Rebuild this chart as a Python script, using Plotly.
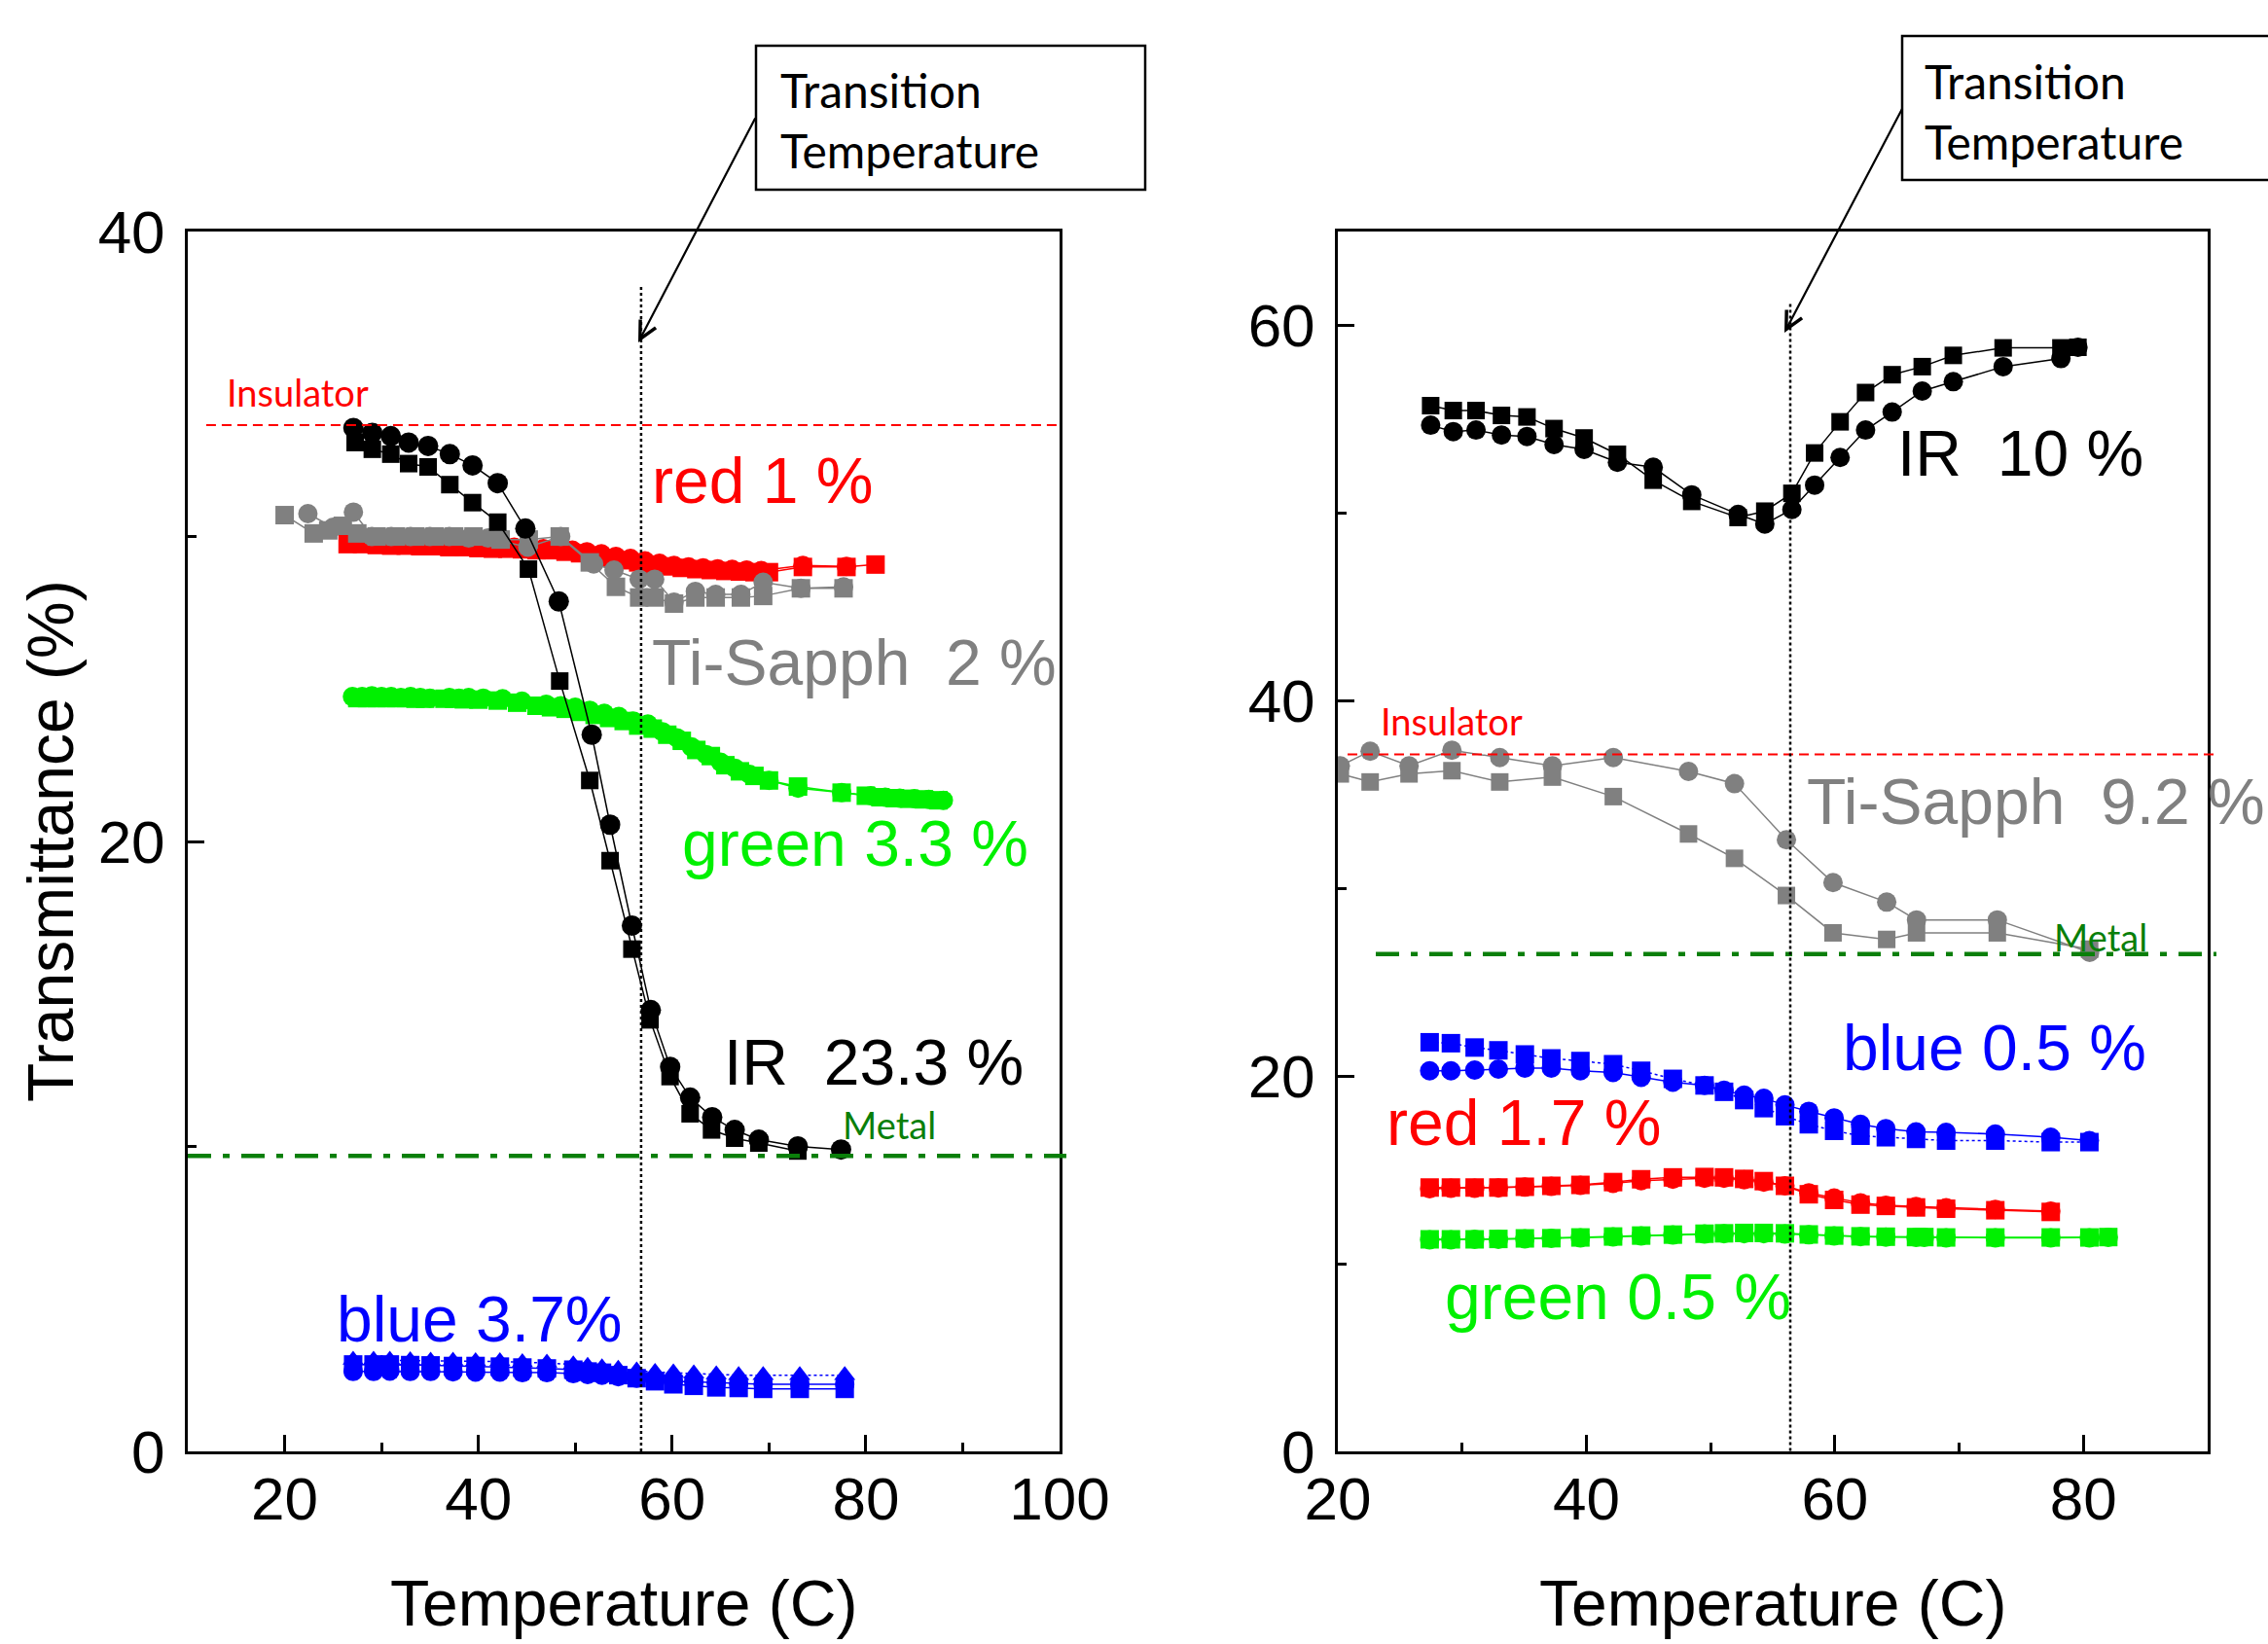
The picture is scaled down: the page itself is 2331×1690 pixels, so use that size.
import plotly.graph_objects as go

W, H = 2331, 1690

# ---------------- Left panel data ----------------
L_IR_ci_T = [27.1, 29.05, 30.96, 32.8, 34.81, 37.05, 39.4, 42.0, 44.85, 48.3, 51.7, 53.6, 55.85, 57.8, 59.8, 61.86, 64.14, 66.46, 68.95, 72.98, 77.44]
L_IR_ci_Y = [33.56, 33.4, 33.29, 33.08, 32.97, 32.7, 32.33, 31.75, 30.26, 27.87, 23.5, 20.55, 17.24, 14.47, 12.61, 11.6, 10.96, 10.54, 10.22, 10.0, 9.9]
L_IR_sq_T = [27.28, 29.05, 30.96, 32.8, 34.81, 37.05, 39.4, 42.0, 45.17, 48.4, 51.5, 53.6, 55.85, 57.72, 59.79, 61.86, 64.07, 66.46, 68.95, 72.98]
L_IR_sq_Y = [33.08, 32.86, 32.7, 32.39, 32.28, 31.7, 31.11, 30.47, 28.93, 25.26, 22.0, 19.37, 16.47, 14.15, 12.29, 11.07, 10.54, 10.27, 10.11, 9.85]

L_red_sq_T = [26.5, 28.0, 29.5, 31.0, 32.5, 34.0, 35.5, 37.0, 38.5, 40.0, 41.5, 43.0, 44.5, 46.0, 47.5, 49.0, 50.5, 52.0, 53.5, 55.0, 56.5, 58.0, 59.5, 61.0, 62.5, 64.0, 65.5, 67.0, 68.5, 70.0, 73.5, 78.0, 81.0]
L_red_sq_Y = [29.75, 29.75, 29.72, 29.7, 29.7, 29.68, 29.68, 29.65, 29.65, 29.62, 29.6, 29.6, 29.58, 29.55, 29.55, 29.5, 29.45, 29.38, 29.3, 29.22, 29.15, 29.08, 29.02, 28.97, 28.93, 28.9, 28.87, 28.85, 28.83, 28.83, 29.0, 29.0, 29.08]
L_red_ci_T = [27.2, 28.7, 30.2, 31.7, 33.2, 34.7, 36.2, 37.7, 39.2, 40.7, 42.2, 43.7, 45.2, 46.7, 48.2, 49.7, 51.2, 52.7, 54.2, 55.7, 57.2, 58.7, 60.2, 61.7, 63.2, 64.7, 66.2, 67.7, 69.2, 73.5, 78.0]
L_red_ci_Y = [29.85, 29.82, 29.8, 29.78, 29.76, 29.75, 29.72, 29.72, 29.7, 29.68, 29.66, 29.65, 29.62, 29.6, 29.58, 29.55, 29.5, 29.43, 29.35, 29.28, 29.2, 29.12, 29.05, 29.0, 28.97, 28.94, 28.92, 28.9, 28.88, 29.05, 29.02]

L_gray_sq_T = [20.0, 23.0, 24.5, 26.0, 27.5, 29.5, 31.5, 33.5, 35.5, 37.5, 39.5, 42.3, 45.2, 48.4, 51.5, 54.2, 56.6, 58.2, 60.2, 62.4, 64.5, 67.1, 69.4, 73.3, 77.7]
L_gray_sq_Y = [30.7, 30.1, 30.2, 30.35, 30.1, 30.0, 30.0, 30.0, 30.0, 30.0, 30.0, 29.9, 29.9, 30.0, 29.15, 28.35, 28.0, 28.0, 27.8, 28.0, 28.0, 28.0, 28.05, 28.3, 28.3]
L_gray_ci_T = [22.4, 25.0, 27.1, 29.0, 31.0, 33.0, 35.0, 37.0, 39.0, 41.0, 45.1, 48.5, 51.9, 54.0, 56.6, 58.2, 60.2, 62.4, 64.5, 67.1, 69.4, 73.3, 77.7]
L_gray_ci_Y = [30.75, 30.3, 30.8, 30.0, 30.0, 30.0, 30.0, 30.0, 29.95, 29.95, 29.65, 30.0, 29.1, 28.9, 28.6, 28.6, 27.85, 28.2, 28.1, 28.1, 28.5, 28.3, 28.35]

L_green_ci_T = [27.0, 28.0, 29.0, 30.0, 31.0, 32.0, 33.0, 34.0, 35.0, 37.0, 38.0, 39.0, 40.5, 42.5, 44.5, 47.0, 48.5, 50.0, 51.5, 53.0, 54.5, 56.0, 57.5, 59.0, 60.5, 62.0, 63.5, 65.0, 66.5, 68.0, 70.0, 73.0, 77.5, 80.5, 82.0, 83.5, 85.0, 86.5, 88.0]
L_green_ci_Y = [24.75, 24.75, 24.78, 24.75, 24.75, 24.72, 24.75, 24.72, 24.7, 24.72, 24.7, 24.72, 24.7, 24.68, 24.6, 24.5, 24.45, 24.4, 24.3, 24.2, 24.1, 23.95, 23.85, 23.6, 23.4, 23.1, 22.85, 22.6, 22.4, 22.2, 22.0, 21.75, 21.6, 21.5, 21.45, 21.42, 21.4, 21.38, 21.35]
L_green_sq_T = [27.5, 28.5, 29.5, 30.5, 31.5, 32.5, 33.5, 34.5, 36.5, 37.5, 38.5, 40.0, 42.0, 44.0, 46.0, 47.5, 49.0, 50.5, 52.0, 53.5, 55.0, 56.5, 58.0, 59.5, 61.0, 62.5, 64.0, 65.5, 67.0, 68.5, 70.0, 73.0, 77.5, 80.0, 81.5, 83.0, 84.5, 86.0, 87.5]
L_green_sq_Y = [24.7, 24.7, 24.7, 24.7, 24.7, 24.7, 24.68, 24.68, 24.68, 24.68, 24.66, 24.65, 24.62, 24.55, 24.45, 24.4, 24.35, 24.25, 24.15, 24.05, 23.95, 23.8, 23.7, 23.5, 23.3, 23.0, 22.8, 22.5, 22.3, 22.15, 22.0, 21.8, 21.6, 21.5, 21.45, 21.42, 21.4, 21.38, 21.35]

L_blue_T = [27.07, 29.18, 30.86, 32.96, 35.07, 37.38, 39.71, 42.22, 44.54, 47.07, 49.8, 51.28, 52.76, 54.44, 56.34, 58.24, 60.13, 62.24, 64.56, 66.87, 69.4, 73.18, 77.82]
L_blue_ci_Y = [2.62, 2.62, 2.63, 2.62, 2.62, 2.61, 2.6, 2.6, 2.58, 2.58, 2.55, 2.52, 2.5, 2.45, 2.4, 2.35, 2.3, 2.28, 2.25, 2.22, 2.2, 2.2, 2.2]
L_blue_sq_Y = [2.85, 2.85, 2.85, 2.83, 2.82, 2.8, 2.8, 2.78, 2.75, 2.72, 2.68, 2.62, 2.58, 2.5, 2.4, 2.3, 2.2, 2.15, 2.1, 2.08, 2.05, 2.05, 2.05]
L_blue_tr_Y = [3.0, 3.0, 3.0, 2.98, 2.97, 2.97, 2.95, 2.95, 2.92, 2.9, 2.85, 2.8, 2.75, 2.7, 2.65, 2.6, 2.58, 2.55, 2.52, 2.5, 2.5, 2.5, 2.5]

# ---------------- Right panel data ----------------
R_IR_T = [27.47, 29.29, 31.12, 33.17, 35.22, 37.4, 39.82, 42.5, 45.38, 48.48, 52.21, 54.36, 56.54, 58.37, 60.42, 62.47, 64.61, 67.03, 69.53, 73.54, 78.19, 79.56]
R_IR_sq_Y = [55.72, 55.46, 55.46, 55.2, 55.12, 54.5, 54.0, 53.13, 51.75, 50.62, 49.76, 50.1, 51.05, 53.2, 54.86, 56.42, 57.37, 57.8, 58.4, 58.8, 58.8, 58.83]
R_IR_ci_Y = [54.68, 54.34, 54.42, 54.16, 54.08, 53.65, 53.39, 52.7, 52.44, 50.97, 49.93, 49.41, 50.19, 51.49, 52.96, 54.42, 55.38, 56.5, 57.0, 57.8, 58.23, 58.83]

R_gray_T = [20.2, 22.6, 25.73, 29.18, 33.03, 37.27, 42.17, 48.22, 51.92, 56.1, 59.85, 64.17, 66.57, 73.07, 80.5]
R_gray_ci_Y = [36.53, 37.31, 36.53, 37.36, 36.97, 36.53, 36.97, 36.23, 35.58, 32.59, 30.31, 29.27, 28.32, 28.32, 26.59]
R_gray_sq_Y = [36.1, 35.67, 36.1, 36.27, 35.67, 35.93, 34.89, 32.9, 31.6, 29.62, 27.63, 27.28, 27.63, 27.63, 26.76]

R_blue_T = [27.39, 29.1, 31.01, 32.92, 35.05, 37.18, 39.52, 42.15, 44.41, 46.96, 49.51, 51.08, 52.7, 54.28, 55.98, 57.9, 59.94, 62.06, 64.1, 66.53, 68.95, 72.91, 77.37, 80.48]
R_blue_sq_Y = [21.8, 21.75, 21.52, 21.37, 21.15, 20.94, 20.8, 20.63, 20.28, 19.85, 19.5, 19.16, 18.72, 18.29, 17.86, 17.43, 17.08, 16.82, 16.74, 16.65, 16.56, 16.56, 16.48, 16.48]
R_blue_ci_Y = [20.28, 20.28, 20.32, 20.37, 20.42, 20.42, 20.28, 20.19, 19.93, 19.67, 19.5, 19.24, 18.98, 18.81, 18.46, 18.12, 17.77, 17.43, 17.2, 17.03, 17.0, 16.91, 16.74, 16.56]

R_red_T = [27.39, 29.1, 31.01, 32.92, 35.05, 37.18, 39.52, 42.15, 44.41, 46.96, 49.51, 51.08, 52.7, 54.28, 55.98, 57.9, 59.94, 62.06, 64.1, 66.53, 68.95, 72.91, 77.37]
R_red_sq_Y = [14.06, 14.06, 14.06, 14.06, 14.1, 14.15, 14.2, 14.35, 14.5, 14.6, 14.62, 14.6, 14.52, 14.4, 14.15, 13.7, 13.4, 13.15, 13.08, 13.0, 12.93, 12.85, 12.76]
R_red_ci_Y = [14.0, 14.02, 14.02, 14.04, 14.08, 14.12, 14.18, 14.28, 14.42, 14.5, 14.55, 14.55, 14.48, 14.35, 14.15, 13.78, 13.5, 13.25, 13.12, 13.05, 12.98, 12.9, 12.8]

R_green_T = [27.39, 29.1, 31.01, 32.92, 35.05, 37.18, 39.52, 42.15, 44.41, 46.96, 49.51, 51.08, 52.7, 54.28, 55.98, 57.9, 59.94, 62.06, 64.1, 66.53, 67.2, 68.95, 72.91, 77.37, 80.48, 82.0]
R_green_sq_Y = [11.3, 11.3, 11.3, 11.32, 11.35, 11.36, 11.4, 11.45, 11.5, 11.55, 11.6, 11.62, 11.64, 11.64, 11.62, 11.56, 11.5, 11.46, 11.44, 11.42, 11.42, 11.4, 11.4, 11.4, 11.4, 11.42]
R_green_ci_Y = [11.28, 11.28, 11.3, 11.3, 11.33, 11.35, 11.38, 11.43, 11.48, 11.53, 11.58, 11.6, 11.6, 11.6, 11.58, 11.54, 11.48, 11.44, 11.42, 11.4, 11.4, 11.38, 11.38, 11.38, 11.38, 11.4]

# reference levels
L_insulator, L_metal, L_transition = 33.65, 9.69, 56.8
R_insulator, R_metal, R_transition = 37.14, 26.5, 56.41

BLACK, GRAY, RED, LIME, BLUE, DKGREEN = "#000000", "#808080", "#FF0000", "#00F000", "#0000FF", "#0A7F0A"

fig = go.Figure()


def add(xs, ys, color, symbol, size, xa, ya, lw=1.5, dash="solid"):
    fig.add_trace(go.Scatter(
        x=xs, y=ys, mode="lines+markers", xaxis=xa, yaxis=ya,
        line=dict(color=color, width=lw, dash=dash),
        marker=dict(symbol=symbol, size=size, color=color, line=dict(width=0)),
        showlegend=False, hoverinfo="skip"))


# left
add(L_green_sq_T, L_green_sq_Y, LIME, "square", 19, "x", "y")
add(L_green_ci_T, L_green_ci_Y, LIME, "circle", 20, "x", "y")
add(L_red_sq_T, L_red_sq_Y, RED, "square", 19, "x", "y")
add(L_red_ci_T, L_red_ci_Y, RED, "circle", 20, "x", "y")
add(L_gray_sq_T, L_gray_sq_Y, GRAY, "square", 19, "x", "y")
add(L_gray_ci_T, L_gray_ci_Y, GRAY, "circle", 20, "x", "y")
add(L_blue_T, L_blue_tr_Y, BLUE, "triangle-up", 19, "x", "y", dash="dot")
add(L_blue_T, L_blue_sq_Y, BLUE, "square", 19, "x", "y")
add(L_blue_T, L_blue_ci_Y, BLUE, "circle", 20, "x", "y")
add(L_IR_sq_T, L_IR_sq_Y, BLACK, "square", 18, "x", "y")
add(L_IR_ci_T, L_IR_ci_Y, BLACK, "circle", 21, "x", "y")

# right
add(R_green_T, R_green_sq_Y, LIME, "square", 19, "x2", "y2")
add(R_green_T, R_green_ci_Y, LIME, "circle", 20, "x2", "y2")
add(R_red_T, R_red_sq_Y, RED, "square", 19, "x2", "y2")
add(R_red_T, R_red_ci_Y, RED, "circle", 20, "x2", "y2")
add(R_blue_T, R_blue_sq_Y, BLUE, "square", 19, "x2", "y2", dash="dot")
add(R_blue_T, R_blue_ci_Y, BLUE, "circle", 20, "x2", "y2")
add(R_gray_T, R_gray_sq_Y, GRAY, "square", 18, "x2", "y2")
add(R_gray_T, R_gray_ci_Y, GRAY, "circle", 20, "x2", "y2")
add(R_IR_T, R_IR_sq_Y, BLACK, "square", 18, "x2", "y2")
add(R_IR_T, R_IR_ci_Y, BLACK, "circle", 20, "x2", "y2")

TICKFONT = dict(family="Liberation Sans, Arial, sans-serif", size=62, color="black")


def axis(domain, rng, dtick, anchor, is_x):
    d = dict(domain=domain, range=rng, dtick=dtick, tick0=0, anchor=anchor,
             automargin=False,
             showline=True, linecolor="black", linewidth=3, mirror=True,
             ticks="inside", ticklen=17, tickwidth=2.5, tickcolor="black",
             showgrid=False, zeroline=False, tickfont=TICKFONT,
             ticklabelstandoff=-7 if is_x else 8,
             minor=dict(ticks="inside", ticklen=9, tickwidth=2.5, tickcolor="black",
                        dtick=10, tick0=0, showgrid=False))
    return d


XL = [193 / W, 1089 / W]
XR = [1375 / W, 2269 / W]
YD = [1 - 1492 / H, 1 - 238 / H]

fig.update_layout(
    width=W, height=H, margin=dict(l=0, r=0, t=0, b=0, pad=0), autosize=False,
    paper_bgcolor="white", plot_bgcolor="white", showlegend=False,
    xaxis=axis(XL, [10, 100], 20, "y", True),
    yaxis=axis(YD, [0, 40], 20, "x", False),
    xaxis2=axis(XR, [20, 90], 20, "y2", True),
    yaxis2=axis(YD, [0, 65], 20, "x2", False),
)


def P(x, y):
    return x / W, 1 - y / H


shapes = []
# left reference lines
shapes.append(dict(type="line", xref="x", yref="y", x0=11.9, x1=100, y0=L_insulator, y1=L_insulator,
                   line=dict(color=RED, width=2, dash="10px,6px")))
shapes.append(dict(type="line", xref="paper", yref="y", x0=193 / W, x1=1096 / W, y0=L_metal, y1=L_metal,
                   line=dict(color=DKGREEN, width=4.5, dash="24px,12px,7px,12px")))
shapes.append(dict(type="line", xref="x", yref="y", x0=L_transition, x1=L_transition, y0=0, y1=38.25,
                   line=dict(color="black", width=2.5, dash="3px,3px")))
# right reference lines
shapes.append(dict(type="line", xref="paper", yref="y2", x0=1385 / W, x1=2276 / W, y0=R_insulator, y1=R_insulator,
                   line=dict(color=RED, width=2, dash="10px,6px")))
shapes.append(dict(type="line", xref="paper", yref="y2", x0=1414 / W, x1=2278 / W, y0=R_metal, y1=R_metal,
                   line=dict(color=DKGREEN, width=4.5, dash="24px,12px,7px,12px")))
shapes.append(dict(type="line", xref="x2", yref="y2", x0=R_transition, x1=R_transition, y0=-0.6, y1=61.3,
                   line=dict(color="black", width=2.5, dash="3px,3px")))
# callout boxes
x0, y0 = P(777, 195); x1, y1 = P(1177, 47)
shapes.append(dict(type="rect", xref="paper", yref="paper", x0=x0, y0=y0, x1=x1, y1=y1,
                   line=dict(color="black", width=2.5), fillcolor="rgba(0,0,0,0)"))
x0, y0 = P(1955, 185); x1, y1 = P(2345, 37)
shapes.append(dict(type="rect", xref="paper", yref="paper", x0=x0, y0=y0, x1=x1, y1=y1,
                   line=dict(color="black", width=2.5), fillcolor="rgba(0,0,0,0)"))
fig.update_layout(shapes=shapes)

ARIAL = "Liberation Sans, Arial, sans-serif"
CAL = "Lato, Carlito, Calibri, sans-serif"
ann = []


def text(px, py_base, s, color, size=66, family=ARIAL, xanchor="left", angle=0):
    x, y = P(px, py_base - 0.32 * size)
    ann.append(dict(xref="paper", yref="paper", x=x, y=y, text=s, showarrow=False,
                    xanchor=xanchor, yanchor="middle", textangle=angle,
                    font=dict(family=family, size=size, color=color)))


# series labels (x = left edge, y = baseline, in pixels)
text(668, 515, "red 1 %", RED)
text(668, 702, "Ti-Sapph&nbsp;&nbsp;2 %", GRAY)
text(699, 888, "green 3.3 %", LIME)
text(742, 1113, "IR&nbsp;&nbsp;23.3 %", BLACK)
text(344, 1377, "blue 3.7%", BLUE)
text(1948, 487, "IR&nbsp;&nbsp;10 %", BLACK)
text(1855, 845, "Ti-Sapph&nbsp;&nbsp;9.2 %", GRAY)
text(1892, 1098, "blue 0.5 %", BLUE)
text(1423, 1175, "red 1.7 %", RED)
text(1483, 1354, "green 0.5 %", LIME)

# small labels
text(231, 415, "Insulator", RED, size=38, family=CAL)
text(864, 1168, "Metal", DKGREEN, size=38, family=CAL)
text(1417, 753, "Insulator", RED, size=38, family=CAL)
text(2109, 975, "Metal", DKGREEN, size=38, family=CAL)

# axis titles
x, y = P(641, 1648)
ann.append(dict(xref="paper", yref="paper", x=x, y=y, text="Temperature (C)", showarrow=False,
                xanchor="center", yanchor="middle", font=dict(family=ARIAL, size=66, color="black")))
x, y = P(1822, 1648)
ann.append(dict(xref="paper", yref="paper", x=x, y=y, text="Temperature (C)", showarrow=False,
                xanchor="center", yanchor="middle", font=dict(family=ARIAL, size=66, color="black")))
x, y = P(52, 865)
ann.append(dict(xref="paper", yref="paper", x=x, y=y, text="Transmittance (%)", showarrow=False,
                xanchor="center", yanchor="middle", textangle=-90,
                font=dict(family=ARIAL, size=66, color="black")))

# callout texts
x, y = P(800, 124)
ann.append(dict(xref="paper", yref="paper", x=x, y=y, text="Transition<br>Temperature", showarrow=False,
                xanchor="left", yanchor="middle", align="left", font=dict(family=CAL, size=48, color="black")))
x, y = P(1976, 114)
ann.append(dict(xref="paper", yref="paper", x=x, y=y, text="Transition<br>Temperature", showarrow=False,
                xanchor="left", yanchor="middle", align="left", font=dict(family=CAL, size=48, color="black")))

# arrows
x, y = P(656, 352)
ann.append(dict(xref="paper", yref="paper", x=x, y=y, text="", showarrow=True, ax=121, ay=-232,
                arrowhead=5, arrowsize=1.6, arrowwidth=2.2, arrowcolor="black"))
x, y = P(1834, 342)
ann.append(dict(xref="paper", yref="paper", x=x, y=y, text="", showarrow=True, ax=122, ay=-232,
                arrowhead=5, arrowsize=1.6, arrowwidth=2.2, arrowcolor="black"))

fig.update_layout(annotations=ann)
fig.write_html("out.html")
